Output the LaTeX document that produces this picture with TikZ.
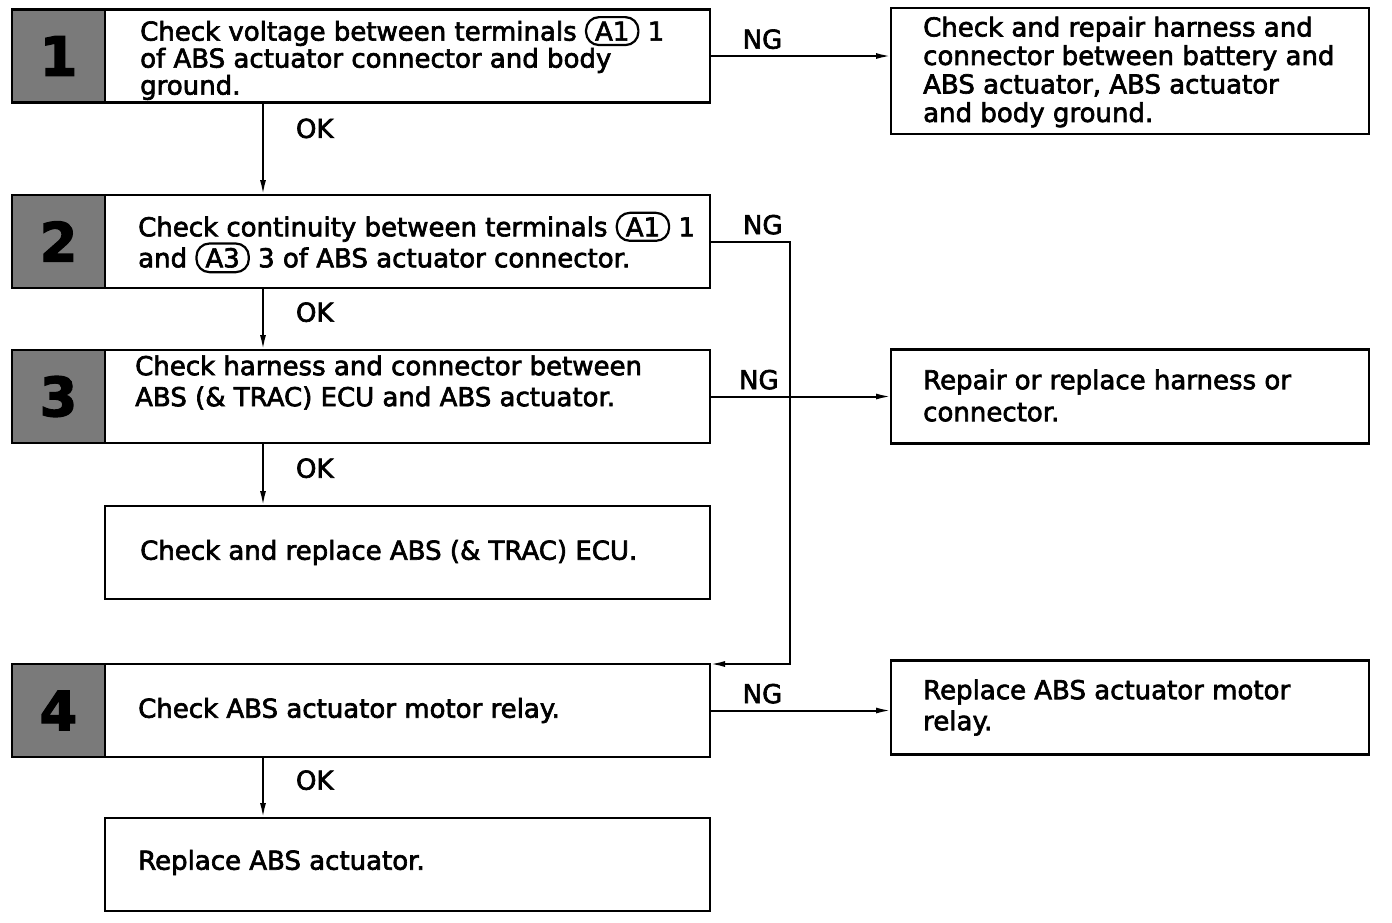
\documentclass[tikz,border=0pt]{standalone}
\usepackage{fontspec}
\setmainfont[FakeBold=2.5]{DejaVu Sans}
\usetikzlibrary{positioning, arrows.meta}
\newcommand{\termtag}[1]{\tikz[baseline=(tg.base)]\node[draw, line width=2.2pt, rounded corners=13pt, inner xsep=9pt, inner ysep=4.5pt, anchor=center, align=center, text width={}, minimum width=0pt, minimum height=0pt](tg){#1};}
\tikzset{x=1pt, y=-1pt, % one unit = one pixel of the sheet
stepbox/.style={ % boxes of the check steps
draw, line width=2.8pt, outer sep=0pt,
minimum width=605pt, minimum height=93pt, inner sep=0pt},
numbox/.style={ % grey square with the step number
draw, line width=2.8pt, outer sep=0pt, fill=black!52,
minimum width=93pt, minimum height=93pt, inner sep=0pt,
font=\fontsize{54}{54}\selectfont\bfseries},
fixbox/.style={ % boxes of the repairs on the right
draw, line width=2.8pt, outer sep=0pt,
minimum width=478pt, minimum height=94pt, inner sep=0pt},
boxtext/.style={anchor=west, align=left, inner sep=0pt,
font=\fontsize{26}{27}\selectfont},
answer/.style={inner sep=0pt, font=\fontsize{26}{27}\selectfont},
every edge/.style={draw, -{Latex[length=15pt, width=6pt]}, line width=2pt}}

\begin{document}
\begin{tikzpicture}
    \useasboundingbox (0,0) rectangle (1392,922);
    \coordinate (col) at (263,0);

    \node[stepbox] at (407.5,56) (s1) {};
    \node[stepbox, below=92.5pt of s1] (s2) {};
    \node[stepbox, below=62pt of s2] (s3) {};
    \node[stepbox, below=63pt of s3] (ecu) {};
    \node[stepbox, below=65pt of ecu] (s4) {};
    \node[stepbox, below=61pt of s4] (rep) {};

    \node[numbox, left=0pt of s1] (n1) {1};
    \node[numbox, left=0pt of s2] (n2) {2};
    \node[numbox, left=0pt of s3] (n3) {3};
    \node[numbox, left=0pt of s4] (n4) {4};

    \node[fixbox, anchor=north west, minimum height=126pt] at (891,8) (r1) {};
    \node[fixbox, right=181pt of s3] (r3) {};
    \node[fixbox, right=181pt of s4, yshift=3pt] (r4) {};

    \node[boxtext, right=35pt of s1.west, yshift=-2pt] (t1) {Check voltage between terminals \termtag{A1} 1\\of ABS actuator connector and body\\ground.};
    \node[boxtext, right=33pt of s2.west, yshift=-1pt, font=\fontsize{26}{31}\selectfont] (t2) {Check continuity between terminals \termtag{A1} 1\\and \termtag{A3} 3 of ABS actuator connector.};
    \node[boxtext, right=30pt of s3.west, yshift=14pt, font=\fontsize{26}{31}\selectfont] (t3) {Check harness and connector between\\ABS (\& TRAC) ECU and ABS actuator.};
    \node[boxtext, right=35pt of ecu.west] (tecu) {Check and replace ABS (\& TRAC) ECU.};
    \node[boxtext, right=33pt of s4.west] (t4) {Check ABS actuator motor relay.};
    \node[boxtext, right=33pt of rep.west, yshift=2pt] (trep) {Replace ABS actuator.};
    \node[boxtext, right=32pt of r1.west, yshift=-1pt, font=\fontsize{26}{28.5}\selectfont] (tr1) {Check and repair harness and\\connector between battery and\\ABS actuator, ABS actuator\\and body ground.};
    \node[boxtext, right=32pt of r3.west, yshift=1pt, font=\fontsize{26}{32}\selectfont] (tr3) {Repair or replace harness or\\connector.};
    \node[boxtext, right=32pt of r4.west, font=\fontsize{26}{31}\selectfont] (tr4) {Replace ABS actuator motor\\relay.};

    % OK: down the column
    \draw (s1.south -| col) edge node[answer, pos=0.28, right=32pt] {OK} (s2.north -| col);
    \draw (s2.south -| col) edge node[answer, pos=0.39, right=32pt] {OK} (s3.north -| col);
    \draw (s3.south -| col) edge node[answer, pos=0.4, right=32pt] {OK} (ecu.north -| col);
    \draw (s4.south -| col) edge node[answer, pos=0.38, right=32pt] {OK} (rep.north -| col);

    % NG: out to the right
    \draw (s1.east) edge node[answer, pos=0.29, above=6pt] {NG} (s1.east -| r1.west);
    \draw (s3.east) edge node[answer, pos=0.27, above=6pt] {NG} (r3);
    \draw (s4.east) edge node[answer, pos=0.29, above=6pt] {NG} (s4.east -| r4.west);
    \draw[-{Latex[length=15pt, width=6pt]}, line width=2pt] (s2.east) -- node[answer, pos=0.66, above=6pt] {NG} ++(80,0) |- (s4.north east);

\end{tikzpicture}
\end{document}
